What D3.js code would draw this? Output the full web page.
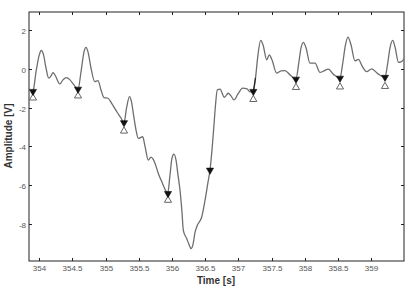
<!DOCTYPE html>
<html><head><meta charset="utf-8">
<script src="https://cdn.jsdelivr.net/npm/d3@7"></script>
<style>body{margin:0;background:#fff}svg{display:block}</style>
</head><body>
<svg id="c" width="412" height="288"></svg>
<script>
const time = [353.875,353.905,353.951,353.996,354.030,354.064,354.101,354.142,354.177,354.207,354.244,354.308,354.357,354.407,354.463,354.523,354.584,354.629,354.674,354.704,354.734,354.779,354.835,354.885,354.930,354.975,355.036,355.096,355.171,355.232,355.277,355.315,355.360,355.390,355.417,355.458,355.492,355.559,355.593,355.643,355.684,355.718,355.759,355.794,355.850,355.895,355.935,355.970,356.000,356.030,356.061,356.091,356.121,356.151,356.171,356.222,356.257,356.287,356.317,356.347,356.382,356.448,356.498,356.543,356.573,356.603,356.633,356.656,356.683,356.724,356.789,356.849,356.890,356.935,356.995,357.066,357.131,357.176,357.226,357.259,357.296,357.337,357.372,357.428,357.467,357.507,357.578,357.643,357.703,357.779,357.869,357.907,357.945,357.982,358.020,358.080,358.156,358.231,358.291,358.356,358.442,358.532,358.570,358.615,358.653,358.698,358.758,358.811,358.864,358.935,359.010,359.105,359.211,359.248,359.286,359.327,359.361,359.414,359.452,359.497];
const amplitude = [-1.240,-1.163,-0.155,0.672,0.946,0.724,0.052,-0.481,-0.362,-0.191,-0.362,-0.775,-0.568,-0.450,-0.568,-0.827,-1.049,-0.155,0.879,1.111,0.879,0.052,-0.656,-0.605,-1.085,-1.483,-1.514,-1.809,-2.222,-2.532,-2.775,-2.016,-1.432,-1.705,-2.289,-3.152,-3.581,-3.499,-3.979,-4.703,-4.548,-4.667,-5.013,-5.390,-5.840,-6.202,-6.424,-5.478,-4.599,-4.393,-4.703,-5.478,-6.253,-7.390,-8.320,-8.749,-9.044,-9.266,-9.044,-8.424,-8.062,-7.633,-6.770,-5.840,-5.220,-4.186,-2.894,-1.860,-1.085,-1.049,-1.463,-1.256,-1.395,-1.602,-1.292,-0.997,-1.034,-1.189,-1.163,-0.465,0.724,1.463,1.240,0.465,0.724,0.465,-0.222,-0.103,-0.088,-0.310,-0.532,0.207,1.085,1.370,1.085,0.295,0.295,-0.181,-0.103,-0.016,-0.310,-0.481,0.207,1.240,1.638,1.240,0.413,0.491,0.155,-0.140,0.000,-0.258,-0.439,0.207,1.085,1.463,1.137,0.336,0.362,0.501];
const markerTime = [353.905,354.584,355.277,355.940,356.573,357.226,357.869,358.532,359.211];
const filledValue = [-1.163,-1.049,-2.775,-6.424,-5.220,-1.163,-0.532,-0.481,-0.439];
const openTime = [353.905,354.584,355.277,355.940,357.226,357.869,358.532,359.211];
const openValue = [-1.499,-1.395,-3.204,-6.770,-1.576,-0.956,-0.930,-0.904];
const darkStart = [353.905,354.584,355.277,357.226,357.869,358.532,359.211];
const xTicks = [354,354.5,355,355.5,356,356.5,357,357.5,358,358.5,359];
const yTicks = [2,0,-2,-4,-6,-8];

const svg = d3.select("#c");
const L=29,R=404,T=12,B=261;
const x = d3.scaleLinear().domain([353.845,359.497]).range([L,R]);
const y = d3.scaleLinear().domain([-9.9,2.93]).range([B,T]);
const font = "Arial, 'Liberation Sans', sans-serif";

svg.append("rect").attr("x",L).attr("y",T).attr("width",R-L).attr("height",B-T)
  .attr("fill","none").attr("stroke","#222").attr("stroke-width",1);

const tl=3;
const g = svg.append("g");
xTicks.forEach(t=>{
  const px=Math.round(x(t))+0.5;
  g.append("line").attr("x1",px).attr("x2",px).attr("y1",B).attr("y2",B-tl).attr("stroke","#222");
  g.append("line").attr("x1",px).attr("x2",px).attr("y1",T).attr("y2",T+tl).attr("stroke","#222");
  g.append("text").attr("x",px).attr("y",B+10).attr("text-anchor","middle")
    .attr("font-family",font).attr("font-size",8).attr("fill","#555").text(t);
});
yTicks.forEach(v=>{
  const py=Math.round(y(v))+0.5;
  g.append("line").attr("x1",L).attr("x2",L+tl).attr("y1",py).attr("y2",py).attr("stroke","#222");
  g.append("line").attr("x1",R).attr("x2",R-tl).attr("y1",py).attr("y2",py).attr("stroke","#222");
  g.append("text").attr("x",L-3).attr("y",py+3).attr("text-anchor","end")
    .attr("font-family",font).attr("font-size",8).attr("fill","#555").text(v);
});

svg.append("text").attr("x",216).attr("y",284).attr("text-anchor","middle")
  .attr("font-family",font).attr("font-size",10).attr("font-weight","bold").attr("fill","#333").text("Time [s]");
svg.append("text").attr("transform","translate(12,136) rotate(-90)").attr("text-anchor","middle")
  .attr("font-family",font).attr("font-size",10).attr("font-weight","bold").attr("fill","#333").text("Amplitude [V]");

const pts = time.map((t,i)=>[t,amplitude[i]]);
const line = d3.line().x(d=>x(d[0])).y(d=>y(d[1])).curve(d3.curveMonotoneX);
svg.append("path").attr("d",line(pts)).attr("fill","none").attr("stroke","#6e6e6e").attr("stroke-width",1.3);
darkStart.forEach(mt=>{
  const seg = pts.filter(p=>p[0]>=mt-0.001 && p[0]<=mt+0.035);
  if(seg.length>1) svg.append("path").attr("d",line(seg)).attr("fill","none").attr("stroke","#222").attr("stroke-width",1.2);
});

const tri = d3.symbol().type(d3.symbolTriangle).size(22);
svg.selectAll(".op").data(openTime).enter().append("path")
  .attr("d",tri).attr("transform",(d,i)=>`translate(${x(d)},${y(openValue[i])})`)
  .attr("fill","#fff").attr("stroke","#555").attr("stroke-width",0.9);
svg.selectAll(".fl").data(markerTime).enter().append("path")
  .attr("d",tri).attr("transform",(d,i)=>`translate(${x(d)},${y(filledValue[i])}) rotate(180)`)
  .attr("fill","#111").attr("stroke","#111").attr("stroke-width",0.6);
</script>
</body></html>
